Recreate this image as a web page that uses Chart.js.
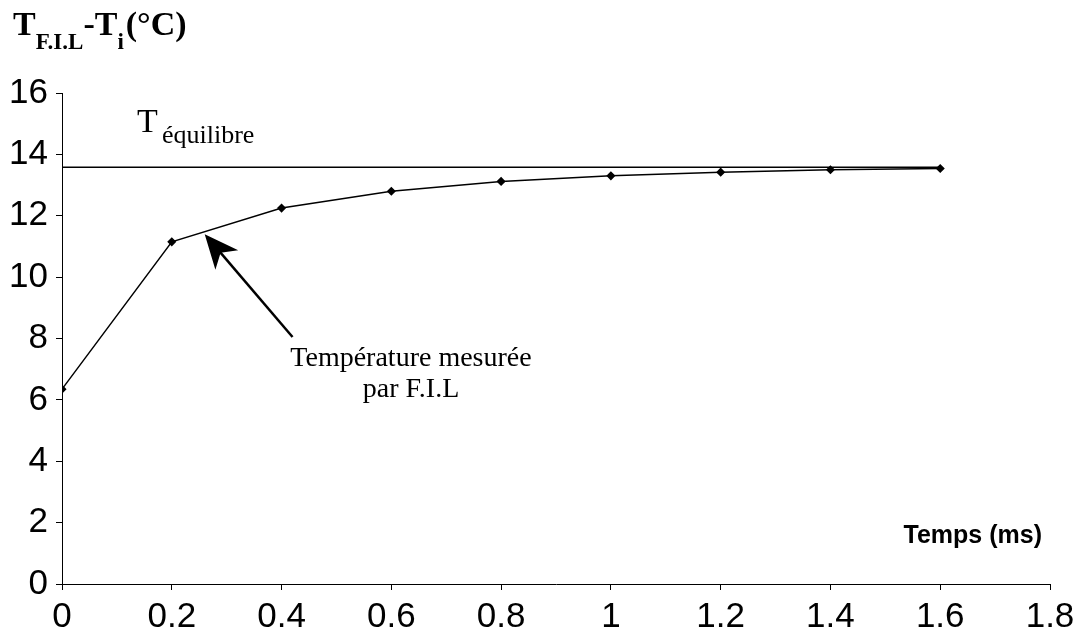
<!DOCTYPE html>
<html>
<head>
<meta charset="utf-8">
<script src="https://cdn.jsdelivr.net/npm/chart.js@4.4.1/dist/chart.umd.min.js"></script>
<style>
  html, body { margin: 0; padding: 0; background: #fff; }
  #wrap { width: 1082px; height: 643px; }
</style>
</head>
<body>
<div id="wrap"><canvas id="chart" width="1082" height="643"></canvas></div>
<script>
const timeMs = [0, 0.2, 0.4, 0.6, 0.8, 1.0, 1.2, 1.4, 1.6];
const measuredTemp = [6.35, 11.15, 12.25, 12.8, 13.12, 13.3, 13.42, 13.5, 13.54];
const equilibriumX = [0, 1.6];
const equilibriumTemp = 13.58;
const arrowTail = { x: 0.42, y: 8.05 };
const arrowTip = { x: 0.26, y: 11.4 };

const serif = '"Liberation Serif", "DejaVu Serif", serif';
const sans = '"Liberation Sans", Arial, sans-serif';

// labels, arrow and axis titles drawn straight on the canvas
const annotations = {
    id: 'annotations',
    afterDraw(chart) {
        const ctx = chart.ctx;
        const xs = chart.scales.x, ys = chart.scales.y;
        ctx.save();
        ctx.fillStyle = '#000';
        ctx.textBaseline = 'alphabetic';
        ctx.textAlign = 'left';

        // y axis title: T F.I.L - T i (°C)
        let x = 13;
        ctx.font = 'bold 34px ' + serif;
        ctx.fillText('T', x, 35); x += ctx.measureText('T').width;
        ctx.font = 'bold 23px ' + serif;
        ctx.fillText('F.I.L', x, 49); x += ctx.measureText('F.I.L').width;
        ctx.font = 'bold 34px ' + serif;
        ctx.fillText('-T', x, 35); x += ctx.measureText('-T').width;
        ctx.font = 'bold 23px ' + serif;
        ctx.fillText('i', x, 49); x += ctx.measureText('i').width + 2;
        ctx.font = 'bold 34px ' + serif;
        ctx.fillText('(°C)', x, 35);

        // T équilibre
        ctx.font = '34px ' + serif;
        ctx.fillText('T', 137, 132);
        ctx.font = '26px ' + serif;
        ctx.fillText('équilibre', 162, 143);

        // x axis title
        ctx.font = 'bold 25px ' + sans;
        ctx.textAlign = 'right';
        ctx.fillText('Temps (ms)', 1042, 543);

        // curve label
        ctx.font = '28px ' + serif;
        ctx.textAlign = 'center';
        ctx.fillText('Température mesurée', 411, 366);
        ctx.fillText('par F.I.L', 411, 397);

        // arrow
        const tx = xs.getPixelForValue(arrowTail.x), ty = ys.getPixelForValue(arrowTail.y);
        const hx = xs.getPixelForValue(arrowTip.x), hy = ys.getPixelForValue(arrowTip.y);
        const ang = Math.atan2(hy - ty, hx - tx);
        const len = 34, wid = 15;
        ctx.strokeStyle = '#000';
        ctx.lineWidth = 2.5;
        ctx.beginPath();
        ctx.moveTo(tx, ty);
        ctx.lineTo(hx - Math.cos(ang) * 22, hy - Math.sin(ang) * 22);
        ctx.stroke();
        ctx.translate(hx, hy);
        ctx.rotate(ang);
        ctx.beginPath();
        ctx.moveTo(0, 0);
        ctx.lineTo(-len, -wid);
        ctx.lineTo(-len * 0.72, 0);
        ctx.lineTo(-len, wid);
        ctx.closePath();
        ctx.fill();
        ctx.restore();
    }
};

new Chart(document.getElementById('chart'), {
    type: 'scatter',
    data: {
        datasets: [
            {
                label: 'Température mesurée par F.I.L',
                data: timeMs.map((t, i) => ({ x: t, y: measuredTemp[i] })),
                showLine: true,
                borderColor: '#000',
                backgroundColor: '#000',
                borderWidth: 1.5,
                pointStyle: 'rectRot',
                pointRadius: 3.5,
                pointHoverRadius: 3.5
            },
            {
                label: 'T équilibre',
                data: equilibriumX.map(t => ({ x: t, y: equilibriumTemp })),
                showLine: true,
                borderColor: '#000',
                borderWidth: 1.5,
                pointRadius: 0
            }
        ]
    },
    plugins: [annotations],
    options: {
        responsive: false,
        animation: false,
        events: [],
        layout: { padding: { top: 93, right: 32, left: 0, bottom: 0 } },
        plugins: { legend: { display: false }, tooltip: { enabled: false } },
        scales: {
            x: {
                type: 'linear',
                min: 0,
                max: 1.8,
                afterFit: s => { s.height = 59; },
                ticks: {
                    stepSize: 0.2, color: '#000', font: { family: sans, size: 35 }, padding: 6, maxRotation: 0,
                    callback: v => String(Math.round(v * 10) / 10)
                },
                grid: { drawOnChartArea: false, drawTicks: true, tickLength: 6, color: '#000' },
                border: { color: '#000', width: 1 }
            },
            y: {
                min: 0,
                max: 16,
                afterFit: s => { s.width = 62; },
                ticks: { stepSize: 2, color: '#000', font: { family: sans, size: 35 }, padding: 8 },
                grid: { drawOnChartArea: false, drawTicks: true, tickLength: 6, color: '#000' },
                border: { color: '#000', width: 1 }
            }
        }
    }
});
</script>
</body>
</html>
